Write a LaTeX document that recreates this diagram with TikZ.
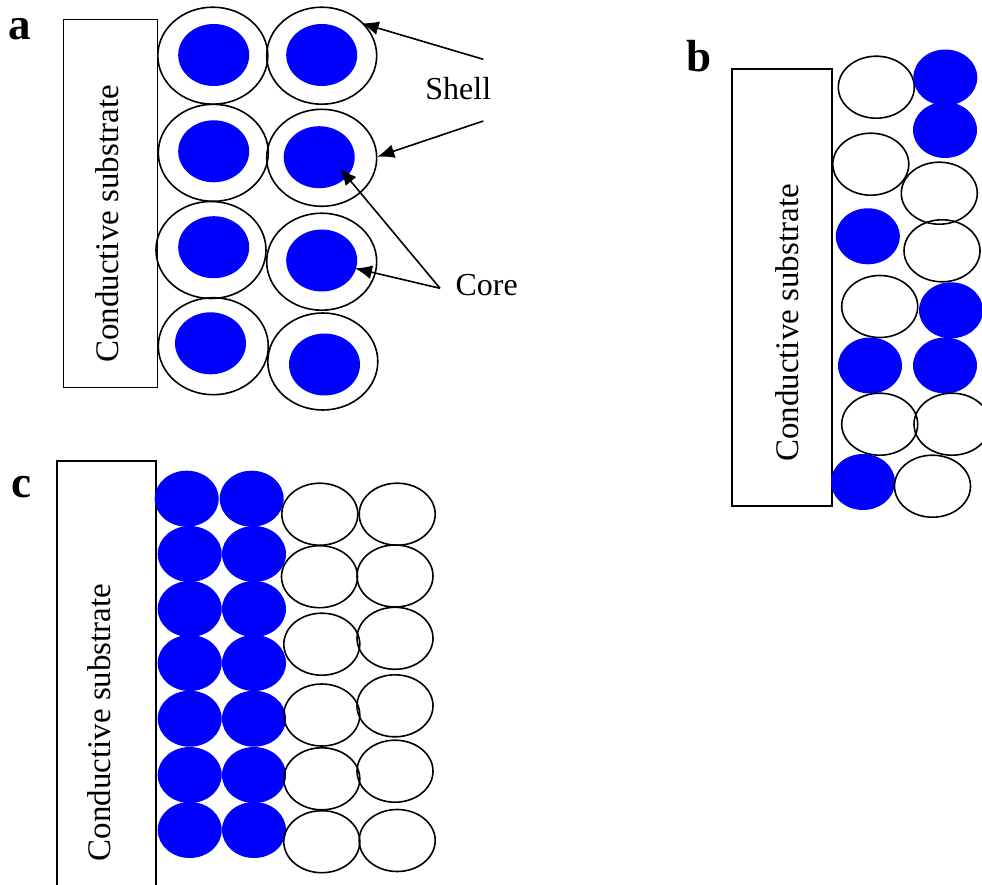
\documentclass[tikz,border=0pt]{standalone}
\usepackage{fontspec}
\setmainfont{Liberation Serif}
\usetikzlibrary{shapes.geometric,arrows.meta}
\definecolor{coreblue}{RGB}{0,0,255}
\begin{document}
\begin{tikzpicture}[x=1pt,y=-1pt,
  shellA/.style={ellipse,draw,line width=1.6pt,minimum width=110pt,minimum height=97pt,inner sep=0pt,outer sep=0pt},
  coreA/.style={ellipse,fill=coreblue,minimum width=71pt,minimum height=62pt,inner sep=0pt,outer sep=0pt},
  ball/.style={ellipse,fill=coreblue,minimum width=64pt,minimum height=56pt,inner sep=0pt,outer sep=0pt},
  hollow/.style={ellipse,draw,line width=1.6pt,minimum width=76pt,minimum height=62pt,inner sep=0pt,outer sep=0pt},
  substrate/.style={draw,line width=1.4pt,inner sep=0pt,outer sep=0pt},
  subtext/.style={rotate=90,anchor=base,font=\fontsize{33}{40}\selectfont,inner sep=0pt},
  lab/.style={font=\fontsize{45}{50}\selectfont\bfseries,anchor=base,inner sep=0pt},
  txt/.style={font=\fontsize{32}{38}\selectfont,anchor=base,inner sep=0pt},
  arr/.style={line width=1.6pt,-{Latex[length=17pt,width=14pt]}}]
\useasboundingbox (0,0) rectangle (982,885);
\clip (0,0) rectangle (982,885);

% ---------- panel a ----------
\node[lab] (la) at (20,40) {a};
\draw[substrate] (63.3,19.3) rectangle (157.3,387.7);
\node[subtext] (ta) at (118,224) {Conductive substrate};
\node[coreA] (a11c) at (213.7,55) {};
\node[coreA] (a12c) at (321.7,55) {};
\node[coreA] (a21c) at (213.7,151.3) {};
\node[coreA] (a22c) at (319.2,157.2) {};
\node[coreA] (a31c) at (213.7,247.2) {};
\node[coreA] (a32c) at (321.7,260.5) {};
\node[coreA] (a41c) at (210.5,343.3) {};
\node[coreA] (a42c) at (324.5,364.5) {};
\node[shellA] (a11) at (212.8,55.7) {};
\node[shellA] (a12) at (321.7,55.7) {};
\node[shellA] (a21) at (213.3,152.8) {};
\node[shellA] (a22) at (321.7,157.8) {};
\node[shellA] (a31) at (211,250) {};
\node[shellA] (a32) at (321.7,261.7) {};
\node[shellA] (a41) at (213.3,346.2) {};
\node[shellA] (a42) at (322.8,361.5) {};
\node[txt] (shell) at (458.3,99.3) {Shell};
\node[txt] (core) at (486.7,295) {Core};
\coordinate (s1) at (483.3,59.3);
\coordinate (s2) at (483.3,121);
\coordinate (c0) at (440,288.3);
\coordinate (e1) at (361.7,23.3);
\coordinate (e2) at (377.3,156.7);
\coordinate (e3) at (340,168.3);
\coordinate (e4) at (355,268.3);
\draw[arr] (s1) -- (e1);
\draw[arr] (s2) -- (e2);
\draw[arr] (c0) -- (e3);
\draw[arr] (c0) -- (e4);

% ---------- panel b ----------
\node[lab] (lb) at (699,72) {b};
\draw[substrate] (732,69) rectangle (832,506);
\node[subtext] (tb) at (798,323) {Conductive substrate};
\node[hollow] (b1) at (876.3,87.2) {};
\node[ball] (b2) at (945.3,77.5) {};
\node[ball] (b3) at (945,130) {};
\node[hollow] (b4) at (870.8,164.2) {};
\node[hollow] (b5) at (939.3,193.2) {};
\node[ball] (b6) at (867.8,236.3) {};
\node[hollow] (b7) at (942,250.8) {};
\node[hollow] (b8) at (879.7,306.5) {};
\node[ball] (b9) at (951,310.3) {};
\node[ball] (b10) at (870,365.5) {};
\node[ball] (b11) at (945,365.5) {};
\node[hollow] (b12) at (879.7,424.2) {};
\node[hollow] (b13) at (952,424.2) {};
\node[ball] (b14) at (863,482) {};
\node[hollow] (b15) at (932.5,486.2) {};

% ---------- panel c ----------
\node[lab] (lc) at (21,497) {c};
\draw[substrate] (57,461) rectangle (156,900);
\node[subtext] (tc) at (110,722.5) {Conductive substrate};
\node[ball] (c11) at (186.7,498.7) {};
\node[ball] (c12) at (251.7,498.7) {};
\foreach \r/\y in {2/554,3/609,4/663,5/718.7,6/775,7/830}{
  \node[ball] (c\r1) at (189.7,\y) {};
  \node[ball] (c\r2) at (254,\y) {};
}
\node[hollow] (c13) at (319.8,514.2) {};
\node[hollow] (c14) at (397.2,514.2) {};
\node[hollow] (c23) at (319.5,576.7) {};
\node[hollow] (c24) at (395,576) {};
\node[hollow] (c33) at (321.8,644.2) {};
\node[hollow] (c34) at (395,638.3) {};
\node[hollow] (c43) at (321.8,715) {};
\node[hollow] (c44) at (395,705.8) {};
\node[hollow] (c53) at (321.8,778.8) {};
\node[hollow] (c54) at (395,771.2) {};
\node[hollow] (c63) at (321.8,841.7) {};
\node[hollow] (c64) at (397.2,840.5) {};
\end{tikzpicture}
\end{document}
